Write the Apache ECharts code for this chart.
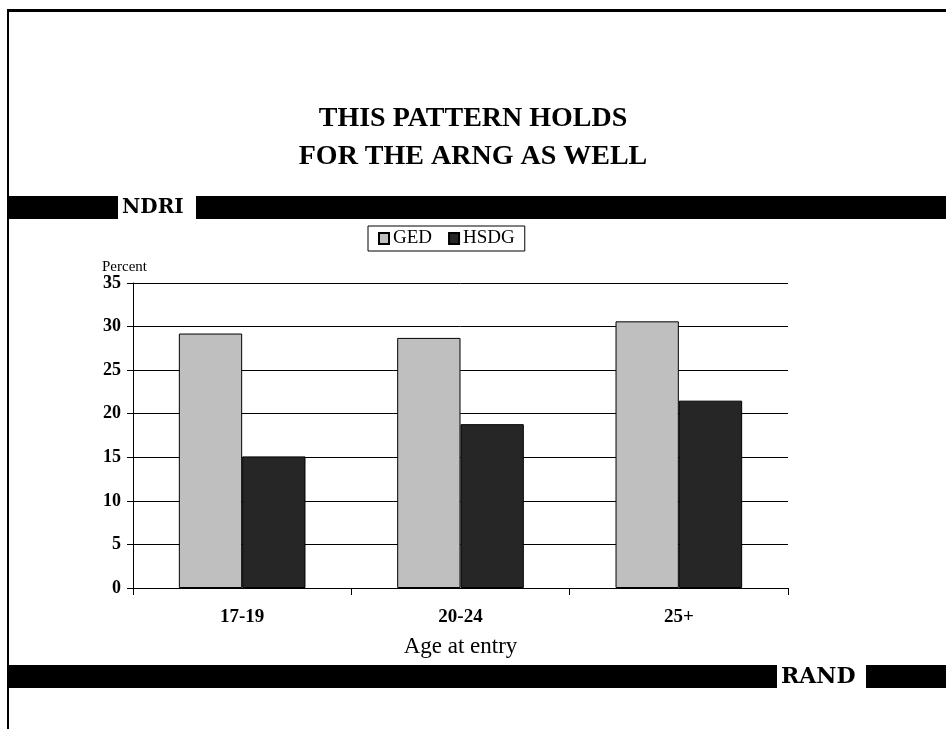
<!DOCTYPE html>
<html>
<head>
<meta charset="utf-8">
<script src="https://cdn.jsdelivr.net/npm/echarts@6/dist/echarts.min.js"></script>
<style>
  html, body { margin: 0; padding: 0; background: #fff; }
  #chart { width: 946px; height: 729px; }
</style>
</head>
<body>
<div id="chart"></div>
<script>
const ageGroups = ['17-19', '20-24', '25+']
const gedValues = [29.2, 28.7, 30.6]
const hsdgValues = [15.1, 18.8, 21.5]
const seriesNames = ['GED', 'HSDG']

const serif = '"Liberation Serif", "DejaVu Serif", serif'
const wideSerif = '"DejaVu Serif", serif'

const chart = echarts.init(document.getElementById('chart'))

let option = {
  backgroundColor: '#fff',
  animation: false,
  textStyle: { fontFamily: serif, color: '#000' },
  title: {
    text: 'THIS PATTERN HOLDS\nFOR THE ARNG AS WELL',
    left: 'center',
    top: 95,
    textStyle: {
      fontFamily: serif,
      fontSize: 28,
      fontWeight: 'bold',
      lineHeight: 38,
      color: '#000'
    }
  },
  legend: {
    data: seriesNames,
    left: 368,
    top: 226,
    padding: [3, 10, 3, 10],
    itemGap: 16,
    itemWidth: 10,
    itemHeight: 11,
    icon: 'rect',
    borderColor: '#000',
    borderWidth: 1,
    textStyle: { fontFamily: serif, fontSize: 19, color: '#000', padding: [0, 0, 0, -1] }
  },
  grid: {
    left: 133,
    right: 158,
    top: 283,
    bottom: 141
  },
  xAxis: {
    type: 'category',
    data: ageGroups,
    name: 'Age at entry',
    nameLocation: 'middle',
    nameGap: 47,
    nameTextStyle: { fontFamily: serif, fontSize: 23, color: '#000' },
    axisLine: { lineStyle: { color: '#000', width: 1 } },
    axisTick: { show: true, alignWithLabel: false, length: 7, lineStyle: { color: '#000' } },
    axisLabel: { fontFamily: serif, fontSize: 19, fontWeight: 'bold', color: '#000', margin: 20 }
  },
  yAxis: {
    type: 'value',
    min: 0,
    max: 35,
    interval: 5,
    name: 'Percent',
    nameLocation: 'end',
    nameGap: 8,
    nameTextStyle: { fontFamily: serif, fontSize: 15, color: '#000', align: 'right', padding: [0, -14, 0, 0] },
    axisLine: { show: true, lineStyle: { color: '#000', width: 1 } },
    axisTick: { show: true, length: 6, lineStyle: { color: '#000' } },
    axisLabel: { fontFamily: serif, fontSize: 18, fontWeight: 'bold', color: '#000', margin: 12 },
    splitLine: { show: true, lineStyle: { color: '#000', width: 1 } }
  },
  series: [
    {
      name: 'GED',
      type: 'bar',
      data: gedValues,
      barGap: '0%',
      barCategoryGap: '42%',
      itemStyle: { color: '#bfbfbf', borderColor: '#000', borderWidth: 1 }
    },
    {
      name: 'HSDG',
      type: 'bar',
      data: hsdgValues,
      itemStyle: { color: '#262626', borderColor: '#000', borderWidth: 1 }
    }
  ],
  graphic: [
    // page frame
    { type: 'rect', shape: { x: 8, y: 9, width: 938, height: 3 }, style: { fill: '#000' } },
    { type: 'rect', shape: { x: 7, y: 9, width: 2, height: 720 }, style: { fill: '#000' } },
    // NDRI band
    { type: 'rect', shape: { x: 8, y: 196, width: 110, height: 23 }, style: { fill: '#000' } },
    { type: 'text', x: 122, y: 208, style: { text: 'NDRI', font: 'bold 20px ' + wideSerif, fill: '#000', verticalAlign: 'middle' } },
    { type: 'rect', shape: { x: 196, y: 196, width: 750, height: 23 }, style: { fill: '#000' } },
    // RAND band
    { type: 'rect', shape: { x: 8, y: 665, width: 769, height: 23 }, style: { fill: '#000' } },
    { type: 'text', x: 781, y: 677, style: { text: 'RAND', font: 'bold 22px ' + wideSerif, fill: '#000', verticalAlign: 'middle' } },
    { type: 'rect', shape: { x: 866, y: 665, width: 80, height: 23 }, style: { fill: '#000' } }
  ]
}

chart.setOption(option)
</script>
</body>
</html>
